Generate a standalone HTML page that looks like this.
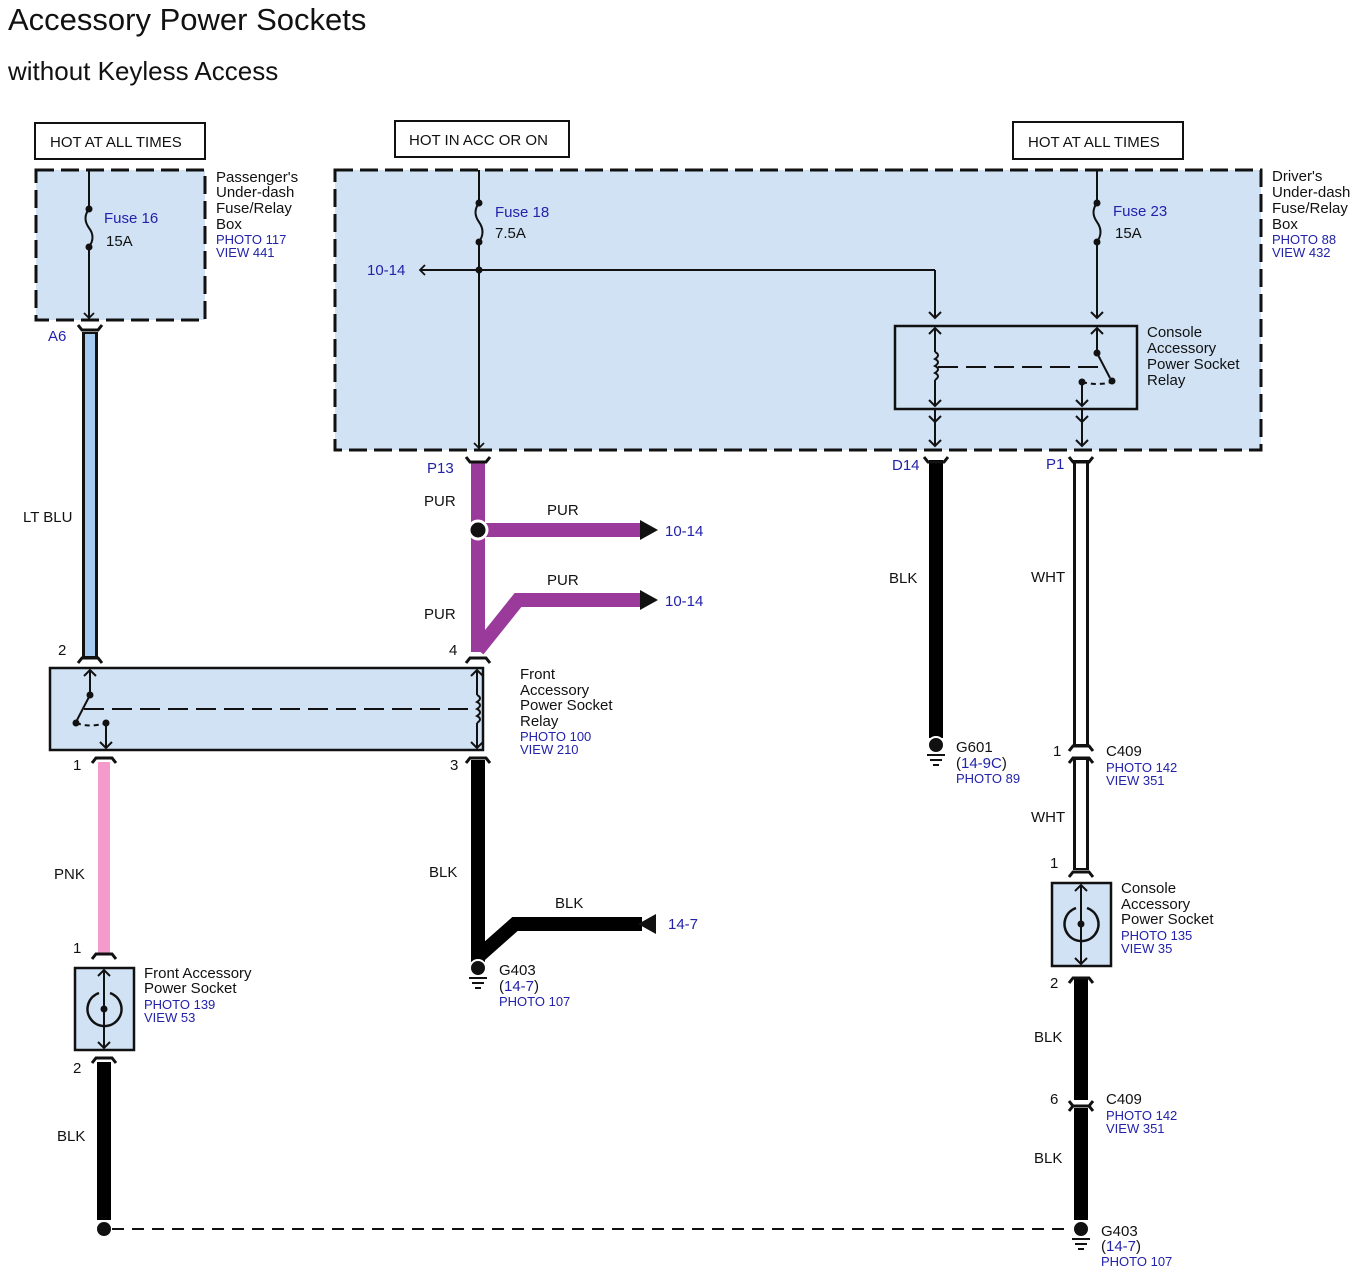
<!DOCTYPE html>
<html><head><meta charset="utf-8"><style>
html,body{margin:0;padding:0;background:#fff;}
svg{display:block;}
text{font-family:"Liberation Sans",Arial,sans-serif;font-size:15px;fill:#111;}
.b{fill:#2222aa;font-size:13px;}
.bl{fill:#2222aa;font-size:15px;}
</style></head><body>
<svg width="1366" height="1278" viewBox="0 0 1366 1278" xmlns="http://www.w3.org/2000/svg">
<defs>
<marker id="ar" markerWidth="12" markerHeight="12" refX="6" refY="6" orient="auto" markerUnits="userSpaceOnUse"><path d="M1,1 L6,6 L1,11" fill="none" stroke="#111" stroke-width="1.8"/></marker>
</defs>
<text x="8" y="30" style="font-size:31px">Accessory Power Sockets</text>
<text x="8" y="80" style="font-size:26px">without Keyless Access</text>

<g fill="#fff" stroke="#111" stroke-width="2">
<rect x="35" y="123" width="170" height="36"/>
<rect x="395" y="121" width="174" height="36"/>
<rect x="1013" y="122" width="170" height="37"/>
</g>
<text x="50" y="147">HOT AT ALL TIMES</text>
<text x="409" y="145">HOT IN ACC OR ON</text>
<text x="1028" y="147">HOT AT ALL TIMES</text>

<g fill="#d0e2f4" stroke="#111" stroke-width="3" stroke-dasharray="18,7">
<rect x="36" y="170" width="169" height="150"/>
<rect x="335" y="170" width="926" height="280"/>
</g>

<g stroke="#111" stroke-width="2" fill="none">
<line x1="89" y1="170" x2="89" y2="209"/><path d="M89,209 q-7,9 0,19 q7,9 0,19"/><line x1="89" y1="247" x2="89" y2="318" marker-end="url(#ar)"/>
<line x1="479" y1="170" x2="479" y2="203"/><path d="M479,203 q-7,9 0,19 q7,10 0,20"/><line x1="479" y1="242" x2="479" y2="448" marker-end="url(#ar)"/>
<line x1="1097" y1="170" x2="1097" y2="203"/><path d="M1097,203 q-7,9 0,19 q7,10 0,20"/><line x1="1097" y1="242" x2="1097" y2="318"/>
<line x1="479" y1="270" x2="420" y2="270" marker-end="url(#ar)"/>
<line x1="479" y1="270" x2="935" y2="270"/><line x1="935" y1="270" x2="935" y2="318"/>
</g>
<g fill="#111"><circle cx="89" cy="209" r="3.5"/><circle cx="89" cy="247" r="3.5"/><circle cx="479" cy="203" r="3.5"/><circle cx="479" cy="242" r="3.5"/><circle cx="1097" cy="203" r="3.5"/><circle cx="1097" cy="242" r="3.5"/><circle cx="479" cy="270" r="3.5"/></g>
<text class="bl" x="104" y="223">Fuse 16</text><text x="106" y="246">15A</text>
<text class="bl" x="495" y="217">Fuse 18</text><text x="495" y="238">7.5A</text>
<text class="bl" x="1113" y="216">Fuse 23</text><text x="1115" y="238">15A</text>
<text class="bl" x="367" y="275">10-14</text>

<text x="216" y="182">Passenger's</text><text x="216" y="197">Under-dash</text><text x="216" y="213">Fuse/Relay</text><text x="216" y="229">Box</text>
<text class="b" x="216" y="244">PHOTO 117</text><text class="b" x="216" y="257">VIEW 441</text>
<text x="1272" y="181">Driver's</text><text x="1272" y="197">Under-dash</text><text x="1272" y="213">Fuse/Relay</text><text x="1272" y="229">Box</text>
<text class="b" x="1272" y="244">PHOTO 88</text><text class="b" x="1272" y="257">VIEW 432</text>

<rect x="895" y="326" width="242" height="83" fill="#d0e2f4" stroke="#111" stroke-width="2.5"/>
<g stroke="#111" stroke-width="2" fill="none">
<path d="M929,312 l6,6 l6,-6"/><path d="M1091,312 l6,6 l6,-6"/>
<line x1="935" y1="328" x2="935" y2="352"/><path d="M929,334 l6,-6 l6,6"/>
<path d="M935,352 q6,3 0,7 q6,3 0,7 q6,3 0,7 q6,3 0,7"/>
<line x1="935" y1="380" x2="935" y2="406"/><path d="M929,400 l6,6 l6,-6"/>
<line x1="935" y1="409" x2="935" y2="446"/><path d="M929,416 l6,6 l6,-6"/><path d="M929,440 l6,6 l6,-6"/>
<line x1="1097" y1="328" x2="1097" y2="353"/><path d="M1091,334 l6,-6 l6,6"/>
<line x1="1097" y1="353" x2="1110" y2="378"/>
<path d="M1082,382 q15,4 30,0" stroke-dasharray="5,4"/>
<line x1="938" y1="367" x2="1105" y2="367" stroke-dasharray="20,8"/>
<line x1="1082" y1="382" x2="1082" y2="406"/><path d="M1076,400 l6,6 l6,-6"/>
<line x1="1082" y1="409" x2="1082" y2="446"/><path d="M1076,416 l6,6 l6,-6"/><path d="M1076,440 l6,6 l6,-6"/>
</g>
<g fill="#111"><circle cx="1097" cy="353" r="3.5"/><circle cx="1112" cy="381" r="3.5"/><circle cx="1082" cy="382" r="3.5"/></g>
<text x="1147" y="337">Console</text><text x="1147" y="353">Accessory</text><text x="1147" y="369">Power Socket</text><text x="1147" y="385">Relay</text>

<line x1="90" y1="332" x2="90" y2="658" stroke="#111" stroke-width="16"/>
<line x1="90" y1="334" x2="90" y2="656" stroke="#a6cbf1" stroke-width="10"/>
<g fill="none" stroke-linejoin="miter">
<line x1="478" y1="462" x2="478" y2="652" stroke="#9a3a9b" stroke-width="14"/>
<line x1="478" y1="530" x2="642" y2="530" stroke="#9a3a9b" stroke-width="14"/>
<path d="M478,650 L518,600 L642,600" stroke="#9a3a9b" stroke-width="14"/>
<line x1="104" y1="762" x2="104" y2="954" stroke="#f59bcb" stroke-width="12"/>
<line x1="104" y1="1062" x2="104" y2="1220" stroke="#000" stroke-width="14"/>
<line x1="478" y1="760" x2="478" y2="962" stroke="#000" stroke-width="14"/>
<path d="M480,955 L515,924 L642,924" stroke="#000" stroke-width="14"/>
<line x1="936" y1="460" x2="936" y2="738" stroke="#000" stroke-width="14"/>
<line x1="1081" y1="978" x2="1081" y2="1100" stroke="#000" stroke-width="14"/>
<line x1="1081" y1="1108" x2="1081" y2="1220" stroke="#000" stroke-width="14"/>
</g>
<line x1="1081" y1="460" x2="1081" y2="746" stroke="#111" stroke-width="16"/><line x1="1081" y1="462" x2="1081" y2="744" stroke="#fff" stroke-width="10"/>
<line x1="1081" y1="758" x2="1081" y2="870" stroke="#111" stroke-width="16"/><line x1="1081" y1="760" x2="1081" y2="868" stroke="#fff" stroke-width="10"/>
<circle cx="478" cy="530" r="9" fill="#111" stroke="#fff" stroke-width="3"/>
<polygon points="640,520 658,530 640,540" fill="#111"/>
<polygon points="640,590 658,600 640,610" fill="#111"/>
<polygon points="656,914 638,924 656,934" fill="#111"/>
<text class="bl" x="665" y="536">10-14</text><text class="bl" x="665" y="606">10-14</text><text class="bl" x="668" y="929">14-7</text>

<g stroke="#111" stroke-width="3" fill="none">
<path d="M78,325 l4,5 h16 l4,-5"/>
<path d="M466,457 l4,5 h16 l4,-5"/>
<path d="M924,457 l4,5 h16 l4,-5"/>
<path d="M1069,457 l4,5 h16 l4,-5"/>
<path d="M78,663 l4,-5 h16 l4,5"/>
<path d="M466,663 l4,-5 h16 l4,5"/>
<path d="M92,763 l4,-5 h16 l4,5"/>
<path d="M466,763 l4,-5 h16 l4,5"/>
<path d="M92,959 l4,-5 h16 l4,5"/>
<path d="M92,1063 l4,-5 h16 l4,5"/>
<path d="M1069,751 l4,-5 h16 l4,5"/>
<path d="M1069,763 l4,-5 h16 l4,5"/>
<path d="M1069,877 l4,-5 h16 l4,5"/>
<path d="M1069,983 l4,-5 h16 l4,5"/>
<path d="M1069,1101 l4,5 h16 l4,-5"/>
<path d="M1069,1111 l4,-5 h16 l4,5"/>
</g>
<text class="bl" x="48" y="341">A6</text><text class="bl" x="427" y="473">P13</text><text class="bl" x="892" y="470">D14</text><text class="bl" x="1046" y="469">P1</text>

<rect x="50" y="668" width="433" height="82" fill="#d0e2f4" stroke="#111" stroke-width="2.5"/>
<g stroke="#111" stroke-width="2" fill="none">
<line x1="90" y1="670" x2="90" y2="695"/><path d="M84,676 l6,-6 l6,6"/>
<line x1="90" y1="695" x2="76" y2="722"/>
<path d="M76,723 q14,5 30,0" stroke-dasharray="5,4"/>
<line x1="84" y1="709" x2="473" y2="709" stroke-dasharray="20,8"/>
<line x1="106" y1="723" x2="106" y2="748"/><path d="M100,742 l6,6 l6,-6"/>
<line x1="477" y1="670" x2="477" y2="695"/><path d="M471,676 l6,-6 l6,6"/>
<path d="M477,695 q6,3 0,7 q6,3 0,7 q6,3 0,7 q6,3 0,7"/>
<line x1="477" y1="723" x2="477" y2="748"/><path d="M471,742 l6,6 l6,-6"/>
</g>
<g fill="#111"><circle cx="90" cy="695" r="3.5"/><circle cx="76" cy="723" r="3.5"/><circle cx="106" cy="723" r="3.5"/></g>
<text x="520" y="679">Front</text><text x="520" y="695">Accessory</text><text x="520" y="710">Power Socket</text><text x="520" y="726">Relay</text>
<text class="b" x="520" y="741">PHOTO 100</text><text class="b" x="520" y="754">VIEW 210</text>

<rect x="75" y="968" width="59" height="82" fill="#d0e2f4" stroke="#111" stroke-width="2.5"/>
<rect x="1052" y="883" width="59" height="83" fill="#d0e2f4" stroke="#111" stroke-width="2.5"/>
<g stroke="#111" stroke-width="2" fill="none">
<line x1="104" y1="970" x2="104" y2="1048"/><path d="M98,976 l6,-6 l6,6"/><path d="M98,1042 l6,6 l6,-6"/>
<path d="M99,993 A17,17 0 1 0 110,993" stroke-width="2.5"/>
<line x1="1081" y1="885" x2="1081" y2="964"/><path d="M1075,891 l6,-6 l6,6"/><path d="M1075,958 l6,6 l6,-6"/>
<path d="M1076,908 A17,17 0 1 0 1087,908" stroke-width="2.5"/>
</g>
<circle cx="104" cy="1009" r="3.5" fill="#111"/><circle cx="1081" cy="924" r="3.5" fill="#111"/>
<text x="144" y="978">Front Accessory</text><text x="144" y="993">Power Socket</text>
<text class="b" x="144" y="1009">PHOTO 139</text><text class="b" x="144" y="1022">VIEW 53</text>
<text x="1121" y="893">Console</text><text x="1121" y="909">Accessory</text><text x="1121" y="924">Power Socket</text>
<text class="b" x="1121" y="940">PHOTO 135</text><text class="b" x="1121" y="953">VIEW 35</text>

<g>
<circle cx="478" cy="968" r="8" fill="#111" stroke="#fff" stroke-width="2"/>
<circle cx="936" cy="745" r="8" fill="#111" stroke="#fff" stroke-width="2"/>
<circle cx="104" cy="1229" r="7" fill="#111"/>
<circle cx="1081" cy="1229" r="8" fill="#111" stroke="#fff" stroke-width="2"/>
</g>
<g stroke="#111" stroke-width="2">
<line x1="469" y1="978" x2="487" y2="978"/><line x1="472" y1="983" x2="484" y2="983"/><line x1="475" y1="988" x2="481" y2="988"/>
<line x1="927" y1="755" x2="945" y2="755"/><line x1="930" y1="760" x2="942" y2="760"/><line x1="933" y1="765" x2="939" y2="765"/>
<line x1="1072" y1="1239" x2="1090" y2="1239"/><line x1="1075" y1="1244" x2="1087" y2="1244"/><line x1="1078" y1="1249" x2="1084" y2="1249"/>
<line x1="112" y1="1229" x2="1072" y2="1229" stroke-dasharray="12,8"/>
</g>
<text x="499" y="975">G403</text><text x="499" y="991"><tspan>(</tspan><tspan class="bl">14-7</tspan><tspan>)</tspan></text><text class="b" x="499" y="1006">PHOTO 107</text>
<text x="956" y="752">G601</text><text x="956" y="768"><tspan>(</tspan><tspan class="bl">14-9C</tspan><tspan>)</tspan></text><text class="b" x="956" y="783">PHOTO 89</text>
<text x="1101" y="1236">G403</text><text x="1101" y="1251"><tspan>(</tspan><tspan class="bl">14-7</tspan><tspan>)</tspan></text><text class="b" x="1101" y="1266">PHOTO 107</text>
<text x="1106" y="756">C409</text><text class="b" x="1106" y="772">PHOTO 142</text><text class="b" x="1106" y="785">VIEW 351</text>
<text x="1106" y="1104">C409</text><text class="b" x="1106" y="1120">PHOTO 142</text><text class="b" x="1106" y="1133">VIEW 351</text>

<text x="23" y="522">LT BLU</text>
<text x="424" y="506">PUR</text><text x="547" y="515">PUR</text><text x="547" y="585">PUR</text><text x="424" y="619">PUR</text>
<text x="54" y="879">PNK</text><text x="57" y="1141">BLK</text>
<text x="429" y="877">BLK</text><text x="555" y="908">BLK</text>
<text x="889" y="583">BLK</text>
<text x="1031" y="582">WHT</text><text x="1031" y="822">WHT</text>
<text x="1034" y="1042">BLK</text><text x="1034" y="1163">BLK</text>
<text x="58" y="655">2</text><text x="449" y="655">4</text><text x="73" y="770">1</text><text x="450" y="770">3</text>
<text x="73" y="953">1</text><text x="73" y="1073">2</text>
<text x="1053" y="756">1</text><text x="1050" y="868">1</text><text x="1050" y="988">2</text><text x="1050" y="1104">6</text>
</svg>
</body></html>
